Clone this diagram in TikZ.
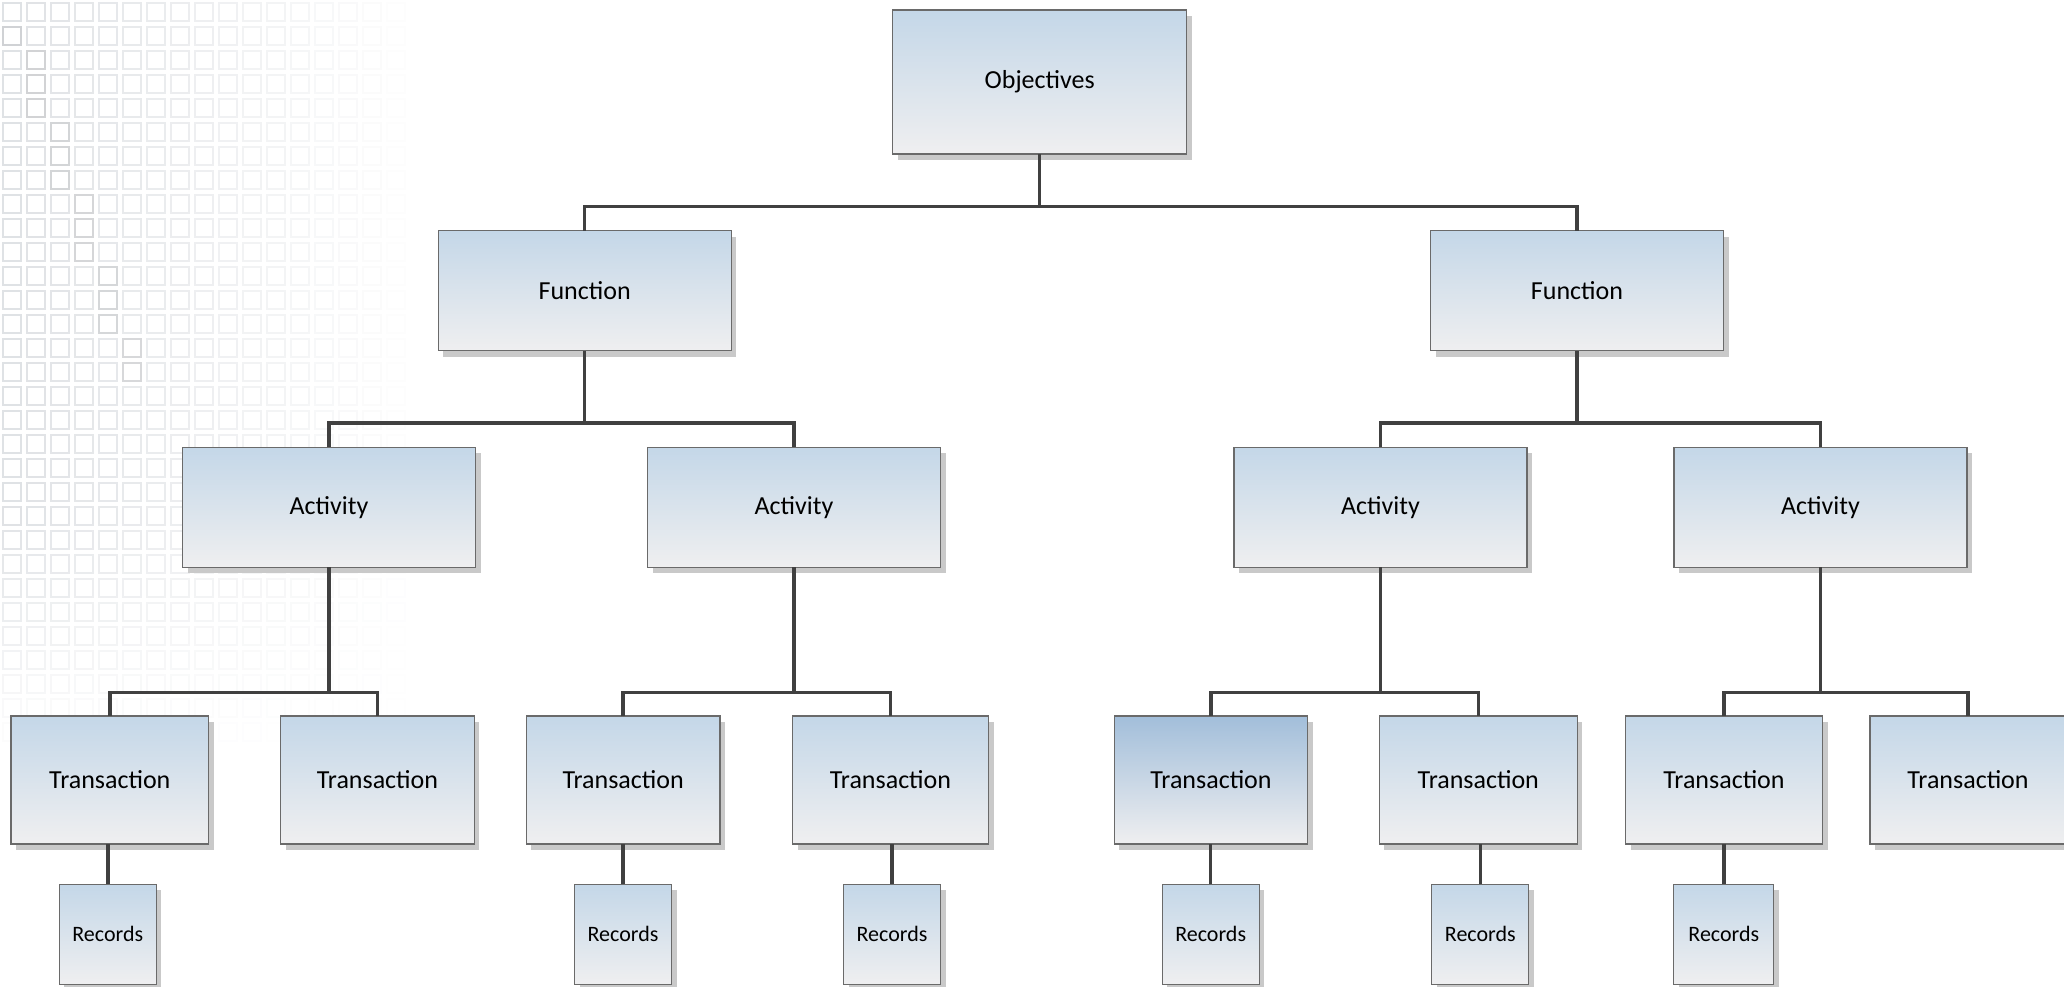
\documentclass[tikz,border=0pt]{standalone}
\usepackage{fontspec}
\setmainfont{Carlito}
\usetikzlibrary{shadows}
\definecolor{boxtop}{HTML}{C4D7E8}
\definecolor{boxbot}{HTML}{EFEFF0}
\definecolor{hltop}{HTML}{A2BEDA}
\definecolor{boxline}{HTML}{6A6A6A}
\definecolor{shadowc}{HTML}{C9C9C9}
\definecolor{connc}{HTML}{404040}
\definecolor{gridc}{HTML}{B4BAC2}
\tikzset{
  orgbox/.style={draw=boxline, line width=1.2pt, top color=boxtop, bottom color=boxbot,
    inner sep=0pt, outer sep=0pt,
    general shadow={fill=shadowc, shadow xshift=5pt, shadow yshift=-6pt},
    font=\fontsize{26}{30}\selectfont},
  bigbox/.style={orgbox, minimum width=293pt, minimum height=120pt},
  transbox/.style={orgbox, minimum height=128pt},
  recbox/.style={orgbox, minimum width=97pt, minimum height=100pt,
    font=\fontsize{22}{26}\selectfont},
  conn/.style={draw=connc, line width=3.5pt},
  bgsq/.style={draw=gridc, line width=1.3pt}
}
\begin{document}
\begin{tikzpicture}[x=1pt,y=-1pt]
\useasboundingbox (0,0) rectangle (2064,986);
\fill[white] (0,0) rectangle (2064,986);
% background grid pattern
\foreach \i in {0,...,17}{
  \foreach \j in {0,...,31}{
    \pgfmathsetmacro\op{max(0,0.42*(1-\i/17))*min(1,max(0,(740-\j*24)/240))}
    \draw[bgsq, opacity=\op] (\i*24+3,\j*24+3) rectangle ++(18,18);
  }
}
\foreach \j in {1,...,15}{
  \pgfmathsetmacro\ii{round(\j/3)}
  \draw[bgsq, draw=gray!70, opacity=0.25] (\ii*24+3,\j*24+3) rectangle ++(18,18);
}
% nodes
\node[bigbox, minimum width=294pt, minimum height=144pt] (obj) at (1039.7,82) {Objectives};
\node[bigbox] (f1) at (584.7,290.8) {Function};
\node[bigbox] (f2) at (1577,290.8) {Function};
\node[bigbox] (a1) at (329,507.2) {Activity};
\node[bigbox] (a2) at (794,507.2) {Activity};
\node[bigbox] (a3) at (1380.5,507.2) {Activity};
\node[bigbox] (a4) at (1820.5,507.2) {Activity};
\node[transbox, minimum width=197.7pt] (t1) at (109.8,780) {Transaction};
\node[transbox, minimum width=193.6pt] (t2) at (377.5,780) {Transaction};
\node[transbox, minimum width=193.5pt] (t3) at (623.2,780) {Transaction};
\node[transbox, minimum width=196pt] (t4) at (890.5,780) {Transaction};
\node[transbox, minimum width=193.4pt, top color=hltop] (t5) at (1211,780) {Transaction};
\node[transbox, minimum width=198pt] (t6) at (1478.3,780) {Transaction};
\node[transbox, minimum width=197pt] (t7) at (1724,780) {Transaction};
\node[transbox, minimum width=196pt] (t8) at (1968,780) {Transaction};
\node[recbox] (r1) at (107.8,934.3) {Records};
\node[recbox] (r3) at (623,934.3) {Records};
\node[recbox] (r4) at (892,934.3) {Records};
\node[recbox] (r5) at (1210.7,934.3) {Records};
\node[recbox] (r6) at (1480.3,934.3) {Records};
\node[recbox, minimum width=100pt] (r7) at (1723.8,934.3) {Records};
% connectors
\coordinate (b0) at (obj.south |- 0,206.7);
\draw[conn] (obj.south) -- (b0);
\draw[conn] (f1.north) |- (b0) -| (f2.north);
\coordinate (b1) at (f1.south |- 0,423);
\draw[conn] (f1.south) -- (b1);
\draw[conn] (a1.north) |- (b1) -| (a2.north);
\coordinate (b2) at (f2.south |- 0,423);
\draw[conn] (f2.south) -- (b2);
\draw[conn] (a3.north) |- (b2) -| (a4.north);
\foreach \a/\l/\r in {a1/t1/t2, a2/t3/t4, a3/t5/t6, a4/t7/t8}{
  \coordinate (bb\a) at (\a.south |- 0,692.3);
  \draw[conn] (\a.south) -- (bb\a);
  \draw[conn] (\l.north) |- (bb\a) -| (\r.north);
}
\foreach \t/\r in {t1/r1, t3/r3, t4/r4, t5/r5, t6/r6, t7/r7}{
  \draw[conn] (\r.north) -- (\r.north |- \t.south);
}
\end{tikzpicture}
\end{document}
